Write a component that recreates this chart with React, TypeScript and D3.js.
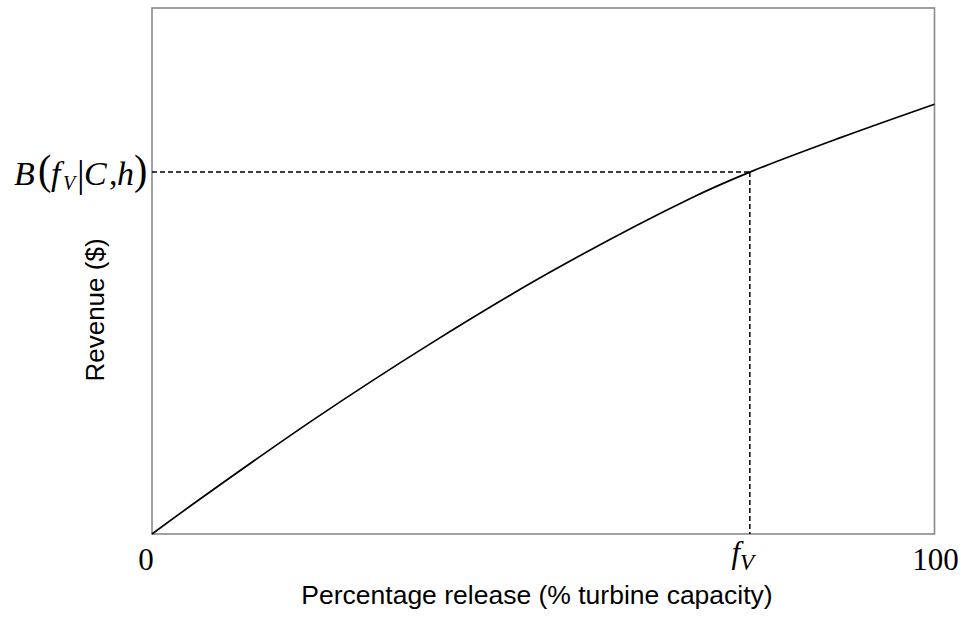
import React from "react";
import * as d3 from "d3";

// Revenue curve: release (% of turbine capacity) vs. revenue (relative units)
const releasePct = [0, 6.1, 20.6, 35.5, 50.9, 68.8, 76.4, 87.9, 100];
const revenue = [0, 6.6, 21.7, 36.1, 49.8, 63.8, 68.8, 75.3, 81.7];

// Marked operating point
const fV = 76.4;
const benefitAtFV = 68.8;

const xTickValues = [0, fV, 100];

const W = 964;
const H = 623;

export default function App() {
  const x = d3.scaleLinear().domain([0, 100]).range([152, 934.5]);
  const y = d3.scaleLinear().domain([0, 100]).range([534, 8]);

  const pts: [number, number][] = releasePct.map((v, i) => [v, revenue[i]]);
  const line = d3
    .line<[number, number]>()
    .x((d) => x(d[0]))
    .y((d) => y(d[1]))
    .curve(d3.curveCatmullRom.alpha(0.5));

  const serif = "'Liberation Serif', 'Times New Roman', serif";
  const sans = "'Liberation Sans', Arial, sans-serif";

  const by = y(benefitAtFV);
  const parenShift = `translate(0,${-(by + 12) * 0.08}) scale(1,1.08)`;

  return (
    <svg
      width={W}
      height={H}
      style={{ position: "fixed", left: 0, top: 0, background: "#fff" }}
    >
      {/* plot frame */}
      <rect
        x={x(0)}
        y={y(100)}
        width={x(100) - x(0)}
        height={y(0) - y(100)}
        fill="none"
        stroke="#8a8a8a"
        strokeWidth={1.6}
      />

      {/* guide lines to the marked point */}
      <line
        x1={x(0)}
        x2={x(fV)}
        y1={by}
        y2={by}
        stroke="#000"
        strokeWidth={1.5}
        strokeDasharray="5,3"
      />
      <line
        x1={x(fV)}
        x2={x(fV)}
        y1={by}
        y2={y(0)}
        stroke="#000"
        strokeWidth={1.5}
        strokeDasharray="5,3"
      />

      {/* revenue curve */}
      <path d={line(pts) ?? ""} fill="none" stroke="#000" strokeWidth={1.7} />

      {/* x tick labels */}
      {xTickValues.map((v, i) =>
        i === 1 ? (
          <text
            key={i}
            x={x(v) - 7}
            y={563}
            fontFamily={serif}
            fontSize={31}
            textAnchor="middle"
            fill="#000"
          >
            <tspan fontStyle="italic">f</tspan>
            <tspan fontStyle="italic" fontSize={23} dy={7}>
              V
            </tspan>
          </text>
        ) : (
          <text
            key={i}
            x={x(v) + (i === 0 ? -6 : 1)}
            y={570}
            fontFamily={serif}
            fontSize={31}
            textAnchor="middle"
            fill="#000"
          >
            {String(v)}
          </text>
        )
      )}

      {/* y label for the marked point: B(f_V | C, h) */}
      <g fontFamily={serif} fill="#000">
        <text x={14} y={by + 13} fontSize={34} fontStyle="italic">B</text>
        <text x={38} y={by + 12} fontSize={40} transform={parenShift}>(</text>
        <text x={51} y={by + 13} fontSize={34} fontStyle="italic">f</text>
        <text x={63} y={by + 18} fontSize={20} fontStyle="italic">V</text>
        <text x={77} y={by + 15} fontSize={38}>|</text>
        <text x={84} y={by + 13} fontSize={34} fontStyle="italic">C</text>
        <text x={109} y={by + 13} fontSize={34}>,</text>
        <text x={117} y={by + 13} fontSize={34} fontStyle="italic">h</text>
        <text x={134} y={by + 12} fontSize={40} transform={parenShift}>)</text>
      </g>

      {/* axis titles */}
      <text
        x={537}
        y={604}
        fontFamily={sans}
        fontSize={26.5}
        textAnchor="middle"
        fill="#000"
      >
        Percentage release (% turbine capacity)
      </text>
      <text
        transform={`translate(104,310) rotate(-90)`}
        fontFamily={sans}
        fontSize={26}
        textAnchor="middle"
        fill="#000"
      >
        Revenue ($)
      </text>
    </svg>
  );
}
